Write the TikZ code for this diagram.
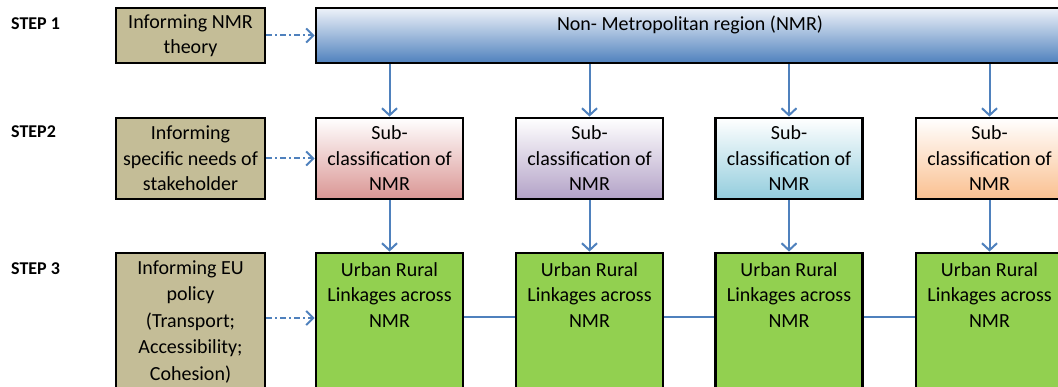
\documentclass[tikz,border=0pt]{standalone}
\usepackage{fontspec}
\setmainfont{Carlito}
\usetikzlibrary{arrows.meta}
\definecolor{tanfill}{HTML}{C4BD97}
\definecolor{greenfill}{HTML}{92D050}
\definecolor{linkblue}{HTML}{4F81BD}
\definecolor{bluetop}{HTML}{EEF2F9}
\definecolor{bluebot}{HTML}{4F81BD}
\definecolor{redbot}{HTML}{DA9694}
\definecolor{purplebot}{HTML}{B3A2C7}
\definecolor{cyanbot}{HTML}{93CDDD}
\definecolor{orangebot}{HTML}{FAC090}
\begin{document}
\begin{tikzpicture}[x=1pt,y=-1pt,
  box/.style={draw=black, line width=2.8pt, align=center, inner sep=0pt,
    font=\fontsize{20}{25.5}\selectfont, text=black},
  tanbox/.style={box, fill=tanfill, minimum width=149pt},
  subbox/.style={box, minimum width=147pt, minimum height=81pt},
  greenbox/.style={box, fill=greenfill, minimum width=147pt, minimum height=138pt},
  toptext/.style={anchor=north, inner sep=0pt, align=center,
    font=\fontsize{20}{25.5}\selectfont, text=black},
  steplabel/.style={anchor=base west, inner sep=0pt, font=\fontsize{18}{20}\selectfont\bfseries},
  conn/.style={draw=linkblue, line width=2pt, -{Straight Barb[length=7pt,width=15pt]}},
  plainconn/.style={draw=linkblue, line width=2pt},
  dasharrow/.style={draw=linkblue, line width=2pt, dash pattern=on 6pt off 3pt on 2pt off 3pt,
    -{Straight Barb[length=7pt,width=14pt]}}
]
\useasboundingbox (0,0) rectangle (1058,387);
\clip (0,0) rectangle (1058,387);
\fill[white] (0,0) rectangle (1058,387);

% step labels
\node[steplabel] (st1) at (11,30) {STEP 1};
\node[steplabel] (st2) at (11,138) {STEP2};
\node[steplabel] (st3) at (11,275) {STEP 3};

% left tan boxes
\node[tanbox, minimum height=55pt] (t1) at (190.5,35.5) {Informing NMR\\theory};
\node[tanbox, minimum height=81pt] (t2) at (190.5,158.5) {Informing\\specific needs of\\stakeholder};
\node[tanbox, minimum height=138pt, font=\fontsize{20}{26.5}\selectfont] (t3) at (190.5,322) {Informing EU\\policy\\(Transport;\\Accessibility;\\Cohesion)};

% top NMR box
\node[box, minimum width=748pt, minimum height=55pt, top color=bluetop, bottom color=bluebot,
  label={[toptext, yshift=-9pt]north:Non- Metropolitan region (NMR)}] (nmr) at (690,35.5) {};

% sub-classification boxes
\node[subbox, top color=white, bottom color=redbot] (s1) at (389.5,158.5) {Sub-\\classification of\\NMR};
\node[subbox, top color=white, bottom color=purplebot] (s2) at (589.5,158.5) {Sub-\\classification of\\NMR};
\node[subbox, top color=white, bottom color=cyanbot] (s3) at (789,158.5) {Sub-\\classification of\\NMR};
\node[subbox, top color=white, bottom color=orangebot] (s4) at (989.5,158.5) {Sub-\\classification of\\NMR};

% green boxes
\node[greenbox, label={[toptext, yshift=-10.5pt]north:{Urban Rural\\Linkages across\\NMR}}] (g1) at (389.5,322) {};
\node[greenbox, label={[toptext, yshift=-10.5pt]north:{Urban Rural\\Linkages across\\NMR}}] (g2) at (589.5,322) {};
\node[greenbox, label={[toptext, yshift=-10.5pt]north:{Urban Rural\\Linkages across\\NMR}}] (g3) at (789,322) {};
\node[greenbox, label={[toptext, yshift=-10.5pt]north:{Urban Rural\\Linkages across\\NMR}}] (g4) at (989.5,322) {};

% connectors
\foreach \s in {s1,s2,s3,s4} {
  \draw[conn] (nmr.south -| \s.north) -- (\s.north);
}
\draw[conn] (s1) -- (g1);
\draw[conn] (s2) -- (g2);
\draw[conn] (s3) -- (g3);
\draw[conn] (s4) -- (g4);

\draw[plainconn] ([yshift=5pt]g1.east) -- ([yshift=5pt]g2.west);
\draw[plainconn] ([yshift=5pt]g2.east) -- ([yshift=5pt]g3.west);
\draw[plainconn] ([yshift=5pt]g3.east) -- ([yshift=5pt]g4.west);

\draw[dasharrow] (t1) -- (nmr);
\draw[dasharrow] (t2) -- (s1);
\draw[dasharrow] ([yshift=4pt]t3.east) -- ([yshift=4pt]g1.west);
\end{tikzpicture}
\end{document}
